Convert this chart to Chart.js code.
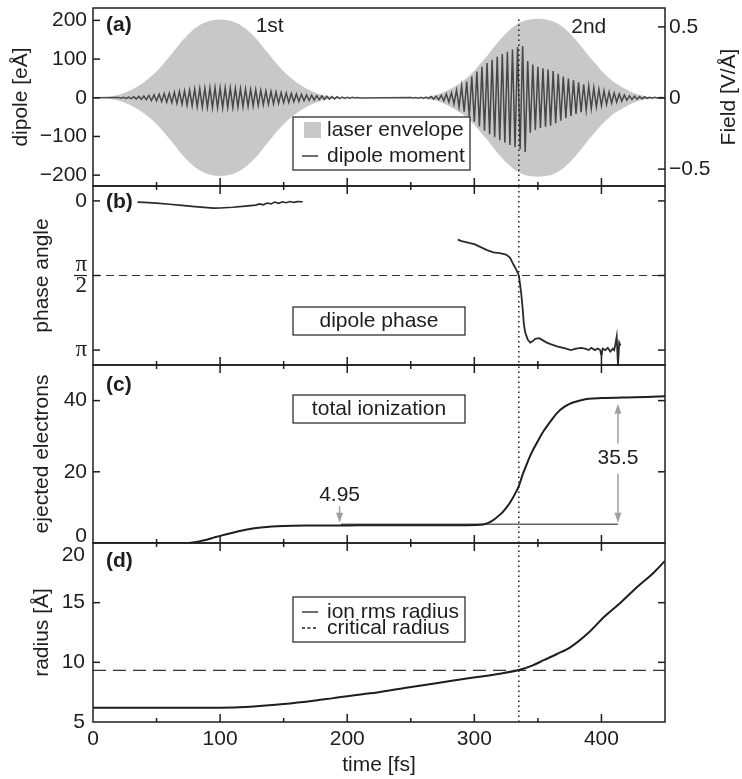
<!DOCTYPE html>
<html>
<head>
<meta charset="utf-8">
<script src="https://cdn.jsdelivr.net/npm/chart.js@4.4.0/dist/chart.umd.min.js"></script>
<style>
  html, body { margin: 0; padding: 0; background: #fff; }
  #wrap { position: relative; width: 742px; height: 779px; }
  #wrap canvas { position: absolute; left: 0; top: 0; }
</style>
</head>
<body>
<div id="wrap">
  <canvas id="chartA" width="742" height="779"></canvas>
  <canvas id="chartB" width="742" height="779"></canvas>
  <canvas id="chartC" width="742" height="779"></canvas>
  <canvas id="chartD" width="742" height="779"></canvas>
</div>
<script>
// ---------- values ----------
const xTicks = [0, 50, 100, 150, 200, 250, 300, 350, 400, 450];
const markerTime = 335;

// (a) laser envelope [eÅ on left axis], two pulses
const envTimes1 = [0, 5, 10, 15, 20, 25, 30, 35, 40, 45, 50, 55, 60, 65, 70, 75, 80, 85, 90, 95, 100,
  105, 110, 115, 120, 125, 130, 135, 140, 145, 150, 155, 160, 165, 170, 175, 180, 185, 190, 195, 200];
const envUpper1 = [0, 0.5, 1.5, 4, 7, 13, 20, 29, 40, 53, 68, 86, 106, 126, 147, 164, 179, 190, 197, 201, 202,
  201, 197, 190, 179, 164, 147, 126, 106, 86, 68, 53, 40, 29, 20, 13, 7, 4, 1.5, 0.5, 0];
const envLower1 = [0, -0.5, -1.5, -4, -7, -13, -20, -29, -40, -53, -68, -86, -106, -126, -147, -164, -179, -190, -197, -201, -202,
  -201, -197, -190, -179, -164, -147, -126, -106, -86, -68, -53, -40, -29, -20, -13, -7, -4, -1.5, -0.5, 0];
const envTimes2 = [250, 255, 260, 265, 270, 275, 280, 285, 290, 295, 300, 305, 310, 315, 320, 325, 330, 335, 340, 345, 350,
  355, 360, 365, 370, 375, 380, 385, 390, 395, 400, 405, 410, 415, 420, 425, 430, 435, 440, 445, 450];
const envUpper2 = [0, 0.5, 1.5, 4, 7, 13, 21, 30, 40, 54, 70, 89, 108, 129, 149, 167, 182, 193, 200, 203, 204,
  203, 200, 193, 182, 167, 149, 129, 108, 89, 70, 54, 40, 30, 21, 13, 7, 4, 1.5, 0.5, 0];
const envLower2 = [0, -0.5, -1.5, -4, -7, -13, -21, -30, -40, -54, -70, -89, -108, -129, -149, -167, -182, -193, -200, -203, -204,
  -203, -200, -193, -182, -167, -149, -129, -108, -89, -70, -54, -40, -30, -21, -13, -7, -4, -1.5, -0.5, 0];

// (a) dipole moment, one value per half cycle (2 fs apart)
const dipoleStep = 2;
const dipoleStart1 = 20;
const dipole1 = [
  1, -1, 1, -1.5, 1.5, -2, 2.5, -3, 3.5, -4,
  4.5, -5, 6, -7, 7.5, -8, 9, -10, 11, -11.5,
  12, -13, 14, -15, 16, -17, 18, -19, 20, -21,
  22, -23, 23.5, -24, 24.5, -25, 25.5, -26, 26, -26,
  26, -26, 25.5, -25, 25, -25, 24.5, -24, 23.5, -23,
  23, -22, 21.5, -21, 20.5, -20, 19, -18, 17.5, -17,
  16, -15.5, 15, -14, 13.5, -13, 12.5, -12, 11, -10.5,
  10, -9.5, 9, -8, 7.5, -7, 6.5, -6, 5.5, -5,
  5, -4.5, 4, -3.5, 3, -3, 2.5, -2, 2, -1.5,
  1.5, -1, 1, -0.5, 0.5, -0.5];
const dipoleStart2 = 250;
const dipole2 = [
  0.5, -0.5, 0.5, -1, 1, -1.5, 2, -2, 3, -3.5,
  4, -5, 6, -8, 9.5, -11, 13, -16, 20, -24,
  30, -36, 42, -48, 55, -62, 68, -74, 80, -85,
  90, -94, 98, -102, 106, -110, 113, -116, 119, -122,
  125, -128, 131, -133, 134, -140, 95, -90, 86, -83,
  80, -78, 76, -75, 73, -72, 69, -66, 62, -59,
  55, -53, 50, -47, 45, -42, 40, -37, 35, -32,
  30, -28, 26, -24, 22, -20, 18, -17, 15, -13.5,
  12, -11, 10, -8.5, 7, -6, 5, -4.5, 4, -3.5,
  3, -2.5, 2, -1.5, 1.5, -1, 1, -0.5, 0.5];

// (b) dipole phase, in units of pi
const phaseTimes1 = [35, 40, 50, 60, 70, 80, 90, 95, 100, 110, 120, 128, 131, 134, 137, 140, 143, 146, 149, 152, 155, 158, 161, 165];
const phaseValues1 = [0.008, 0.01, 0.015, 0.022, 0.03, 0.038, 0.045, 0.048, 0.047, 0.042, 0.035, 0.028, 0.02, 0.026, 0.014, 0.02, 0.008, 0.016, 0.006, 0.012, 0.004, 0.01, 0.005, 0.006];
const phaseTimes2 = [287, 290, 295, 300, 305, 310, 315, 320, 325, 328, 331, 333, 335, 336, 337, 338, 339, 340, 342, 344,
  346, 348, 351, 354, 357, 360, 365, 370, 376, 380, 384, 387, 390, 392, 395, 397, 399, 400, 401, 403,
  405, 407, 409, 410, 411, 412, 413, 414, 415];
const phaseValues2 = [0.26, 0.27, 0.28, 0.29, 0.31, 0.33, 0.345, 0.35, 0.36, 0.38, 0.43, 0.46, 0.50, 0.56, 0.63, 0.72, 0.83, 0.88, 0.93, 0.95,
  0.94, 0.925, 0.92, 0.935, 0.95, 0.96, 0.975, 0.985, 1.0, 0.99, 0.985, 0.99, 1.0, 0.985, 1.0, 0.99, 1.0, 1.04, 0.99, 1.0,
  0.985, 1.01, 0.99, 1.0, 0.96, 0.91, 1.10, 0.95, 0.97];
const phaseHalf = 0.5;

// (c) total ionization
const ionTimes = [0, 75, 80, 85, 90, 95, 100, 110, 120, 134, 150, 170, 200, 250, 290, 300, 307, 313, 320, 324,
  328, 332, 335, 338, 341.5, 345, 349, 354, 360, 365, 371, 377, 384, 390, 400, 420, 435, 450];
const ionValues = [0, 0, 0.2, 0.6, 1.0, 1.5, 2.0, 2.9, 3.7, 4.4, 4.75, 4.9, 4.95, 5.0, 5.0, 5.05, 5.2, 6.0, 7.9, 9.4,
  11.3, 13.8, 16.0, 19.2, 22.4, 25.3, 28.0, 31.2, 34.2, 36.5, 38.3, 39.4, 40.1, 40.5, 40.7, 40.9, 41.0, 41.2];
const firstYield = 4.95, secondYield = 35.5;

// (d) ion rms radius
const radiusTimes = [0, 100, 120, 150, 175, 189, 218, 245, 270, 298, 320, 335, 345, 355, 365, 376, 390, 402, 415, 429, 440, 450];
const radiusValues = [6.2, 6.2, 6.25, 6.5, 6.8, 7.0, 7.4, 7.85, 8.25, 8.7, 9.05, 9.35, 9.7, 10.2, 10.7, 11.3, 12.5, 13.8, 15.0, 16.4, 17.4, 18.5];
const criticalRadius = 9.33;

// ---------- look ----------
const SANS = '"Liberation Sans", Arial, Helvetica, sans-serif';
const SERIF = '"Liberation Serif", "Times New Roman", serif';
const INK = '#1e1e1e';
const ENV = '#c8c8c8';
const ARROW = '#a0a0a0';
Chart.defaults.font.family = SANS;
Chart.defaults.font.size = 21;
Chart.defaults.color = INK;

const H = 779, PLOT_LEFT = 93, RIGHT_MARGIN = 77;

const xy = (xs, ys) => xs.map((x, i) => ({x: x, y: ys[i]}));
const minus = v => v < 0 ? '\u2212' + Math.abs(v) : String(v);

function line(data, color, width, extra) {
  return Object.assign({data: data, borderColor: color, borderWidth: width, pointRadius: 0, fill: false, tension: 0}, extra || {});
}
function marker(lo, hi) {
  return line([{x: markerTime, y: lo}, {x: markerTime, y: hi}], INK, 1.5, {borderDash: [1.5, 3.5]});
}

function xScale(show) {
  return {
    type: 'linear', min: 0, max: 450, display: show,
    grid: {display: false, drawTicks: false}, border: {display: false},
    afterBuildTicks: s => { s.ticks = xTicks.map(v => ({value: v})); },
    ticks: {padding: 5, color: INK, maxRotation: 0, autoSkip: false,
      callback: v => v % 100 === 0 ? String(v) : ''},
    title: {display: show, text: 'time [fs]', color: INK, padding: {top: 0, bottom: 1.4}},
    afterFit: s => { s.height = show ? H - 722 : 0; s.paddingLeft = 0; s.paddingRight = 0; }
  };
}

function yScale(o) {
  return {
    type: 'linear', position: o.position || 'left', min: o.min, max: o.max, reverse: !!o.reverse,
    grid: {display: false, drawTicks: false}, border: {display: false},
    afterBuildTicks: s => { s.ticks = o.ticks.map(v => ({value: v})); },
    ticks: {padding: o.padding, color: INK, autoSkip: false, font: o.font, callback: o.callback || minus},
    title: {display: !!o.title, text: o.title, color: INK, padding: {top: o.titlePad || 0, bottom: 0}},
    afterFit: s => { s.width = o.width; s.paddingTop = 0; s.paddingBottom = 0; }
  };
}

// frame, inward ticks, panel labels, legends and notes
const panelDecor = {
  id: 'panelDecor',
  afterDraw(chart, args, o) {
    const ctx = chart.ctx, a = chart.chartArea, xs = chart.scales.x, ys = chart.scales.y;
    const seg = (x1, y1, x2, y2) => { ctx.beginPath(); ctx.moveTo(x1, y1); ctx.lineTo(x2, y2); ctx.stroke(); };
    const text = (s, x, y, font, align) => {
      ctx.font = font; ctx.textAlign = align || 'left'; ctx.textBaseline = 'middle'; ctx.fillText(s, x, y);
    };
    ctx.save();
    ctx.strokeStyle = INK; ctx.fillStyle = INK; ctx.lineWidth = 1.5;
    ctx.strokeRect(a.left, a.top, a.right - a.left, a.bottom - a.top);

    xTicks.forEach(v => {
      const px = xs.getPixelForValue(v);
      if (px <= a.left + 1 || px >= a.right - 1) return;
      const len = v % 100 === 0 ? 8 : 4;
      seg(px, a.bottom, px, a.bottom - len);
      if (o.topTicks) seg(px, a.top, px, a.top + len);
    });
    const yTicks = (scale, x0, dir) => scale.ticks.forEach(t => {
      const py = scale.getPixelForValue(t.value);
      if (py <= a.top + 1 || py >= a.bottom - 1) return;
      seg(x0, py, x0 + dir * 7, py);
    });
    yTicks(ys, a.left, 1);
    yTicks(chart.scales.y2 || ys, a.right, -1);

    if (o.fraction) {
      ctx.lineWidth = 1.2;
      const py = ys.getPixelForValue(o.fraction);
      seg(74, py, 87, py);
    }

    (o.arrowHeads || []).forEach(h => {
      const px = xs.getPixelForValue(h.x), py = ys.getPixelForValue(h.y);
      const d = h.dir === 'up' ? 1 : -1;
      ctx.fillStyle = ARROW;
      ctx.beginPath();
      ctx.moveTo(px, py); ctx.lineTo(px - 3.5, py + d * 10); ctx.lineTo(px + 3.5, py + d * 10);
      ctx.closePath(); ctx.fill();
    });

    ctx.fillStyle = INK;
    text(o.label, a.left + 13, a.top + o.labelDy, 'bold 21px ' + SANS);

    (o.notes || []).forEach(n => {
      const px = xs.getPixelForValue(n.x), py = ys.getPixelForValue(n.y);
      if (n.bg) { ctx.fillStyle = '#fff'; ctx.fillRect(px - 22, py - 15, 44, 30); }
      ctx.fillStyle = INK;
      text(n.text, px, py, '21px ' + SANS, 'center');
    });

    if (o.legend) {
      const L = o.legend;
      ctx.fillStyle = '#fff';
      ctx.fillRect(L.x, L.y, L.w, L.h);
      ctx.lineWidth = 1.2; ctx.strokeStyle = INK;
      ctx.strokeRect(L.x, L.y, L.w, L.h);
      L.rows.forEach(r => {
        ctx.fillStyle = INK; ctx.strokeStyle = INK;
        if (r.center) { text(r.label, L.x + L.w / 2, r.y, '21px ' + SANS, 'center'); return; }
        if (r.swatch === 'fill') { ctx.fillStyle = ENV; ctx.fillRect(L.x + 11, r.y - 8, 17, 16); }
        if (r.swatch === 'line') { ctx.lineWidth = 1.3; ctx.setLineDash([]); seg(L.x + 9, r.y, L.x + 25, r.y); }
        if (r.swatch === 'dash') { ctx.lineWidth = 1.3; ctx.setLineDash([3, 2.5]); seg(L.x + 9, r.y, L.x + 25, r.y); ctx.setLineDash([]); }
        ctx.fillStyle = INK;
        text(r.label, L.x + 34, r.y, '21px ' + SANS);
      });
    }

    if (o.rightTitle) {
      ctx.save();
      ctx.translate(729, (a.top + a.bottom) / 2);
      ctx.rotate(-Math.PI / 2);
      text(o.rightTitle, 0, 0, '21px ' + SANS, 'center');
      ctx.restore();
    }
    ctx.restore();
  }
};

function makeChart(id, pad, datasets, scales, decor) {
  return new Chart(document.getElementById(id), {
    type: 'line',
    data: {datasets: datasets},
    options: {
      responsive: false, animation: false, events: [],
      layout: {padding: pad},
      scales: scales,
      plugins: {legend: {display: false}, tooltip: {enabled: false}, panelDecor: decor}
    },
    plugins: [panelDecor]
  });
}

// ---------- (a) ----------
const dipolePoints = [{x: 0, y: 0}]
  .concat(dipole1.map((v, i) => ({x: dipoleStart1 + i * dipoleStep, y: v})))
  .concat(dipole2.map((v, i) => ({x: dipoleStart2 + i * dipoleStep, y: v})))
  .concat([{x: 450, y: 0}]);

makeChart('chartA', {left: 0, top: 8, right: 0, bottom: H - 186}, [
  marker(-228, 205),
  line(dipolePoints, '#474747', 1.5),
  line(xy(envTimes1, envUpper1), ENV, 0, {fill: 'origin', backgroundColor: ENV}),
  line(xy(envTimes1, envLower1), ENV, 0, {fill: 'origin', backgroundColor: ENV}),
  line(xy(envTimes2, envUpper2), ENV, 0, {fill: 'origin', backgroundColor: ENV}),
  line(xy(envTimes2, envLower2), ENV, 0, {fill: 'origin', backgroundColor: ENV})
], {
  x: xScale(false),
  y: yScale({min: -228, max: 232, ticks: [-200, -100, 0, 100, 200], padding: 6, width: PLOT_LEFT,
    title: 'dipole [eÅ]', titlePad: 9}),
  y2: yScale({position: 'right', min: -0.619, max: 0.633, ticks: [-0.5, 0, 0.5], padding: 4, width: RIGHT_MARGIN})
}, {
  label: '(a)', labelDy: 17.5, rightTitle: 'Field [V/Å]',
  notes: [{x: 139, y: 186, text: '1st'}, {x: 390, y: 183, text: '2nd'}],
  legend: {x: 293, y: 117, w: 177, h: 53, rows: [
    {swatch: 'fill', label: 'laser envelope', y: 130},
    {swatch: 'line', label: 'dipole moment', y: 156}]}
});

// ---------- (b) ----------
makeChart('chartB', {left: 0, top: 186, right: RIGHT_MARGIN, bottom: H - 365}, [
  marker(-0.1, 1.1),
  line(xy(phaseTimes1, phaseValues1), '#2a2a2a', 1.6),
  line(xy(phaseTimes2, phaseValues2), '#2a2a2a', 1.8),
  line([{x: 0, y: phaseHalf}, {x: 450, y: phaseHalf}], '#333', 1.2, {borderDash: [8, 5]})
], {
  x: xScale(false),
  y: yScale({min: -0.1, max: 1.1, reverse: true, ticks: [0, 0.5, 1], padding: 6, width: PLOT_LEFT,
    title: 'phase angle', titlePad: 29.4,
    font: c => (c.tick && c.tick.value > 0) ? {family: SERIF, size: 23, lineHeight: 0.95} : {family: SANS, size: 21},
    callback: v => v === 0 ? '0' : (v === 1 ? 'π' : ['π', '2'])})
}, {
  label: '(b)', labelDy: 16, topTicks: true, fraction: phaseHalf,
  legend: {x: 293, y: 307, w: 172, h: 28, rows: [{center: true, label: 'dipole phase', y: 321}]}
});

// ---------- (c) ----------
makeChart('chartC', {left: 0, top: 365, right: RIGHT_MARGIN, bottom: H - 543}, [
  marker(0, 50),
  line(xy(ionTimes, ionValues), INK, 2, {cubicInterpolationMode: 'monotone'}),
  line([{x: 195, y: 5.25}, {x: 413, y: 5.25}], '#666', 1.5),
  line([{x: 194, y: 10.3}, {x: 194, y: 7}], ARROW, 1.5),
  line([{x: 413, y: 7}, {x: 413, y: 38}], ARROW, 1.5)
], {
  x: xScale(false),
  y: yScale({min: 0, max: 50, ticks: [0, 20, 40], padding: 6, width: PLOT_LEFT,
    title: 'ejected electrons', titlePad: 29.4,
    font: c => (c.tick && c.tick.value === 0) ? {size: 21, lineHeight: 0.6} : {size: 21},
    callback: v => v === 0 ? ['0', ''] : String(v)})
}, {
  label: '(c)', labelDy: 20, topTicks: true,
  arrowHeads: [{x: 194, y: 5.7, dir: 'down'}, {x: 413, y: 5.7, dir: 'down'}, {x: 413, y: 39.1, dir: 'up'}],
  notes: [{x: 194, y: 13.3, text: String(firstYield)}, {x: 413, y: 23.7, text: String(secondYield), bg: true}],
  legend: {x: 293, y: 395, w: 172, h: 28, rows: [{center: true, label: 'total ionization', y: 409}]}
});

// ---------- (d) ----------
makeChart('chartD', {left: 0, top: 543, right: RIGHT_MARGIN, bottom: 0}, [
  marker(5, 20),
  line(xy(radiusTimes, radiusValues), INK, 2, {cubicInterpolationMode: 'monotone'}),
  line([{x: 0, y: criticalRadius}, {x: 450, y: criticalRadius}], '#333', 1.2, {borderDash: [13, 7]})
], {
  x: xScale(true),
  y: yScale({min: 5, max: 20, ticks: [5, 10, 15, 20], padding: 8, width: PLOT_LEFT,
    title: 'radius [Å]', titlePad: 29.4,
    callback: v => v === 20 ? ['', '20'] : String(v)})
}, {
  label: '(d)', labelDy: 18, topTicks: true,
  legend: {x: 293, y: 597, w: 172, h: 45, rows: [
    {swatch: 'line', label: 'ion rms radius', y: 612},
    {swatch: 'dash', label: 'critical radius', y: 628}]}
});
</script>
</body>
</html>
